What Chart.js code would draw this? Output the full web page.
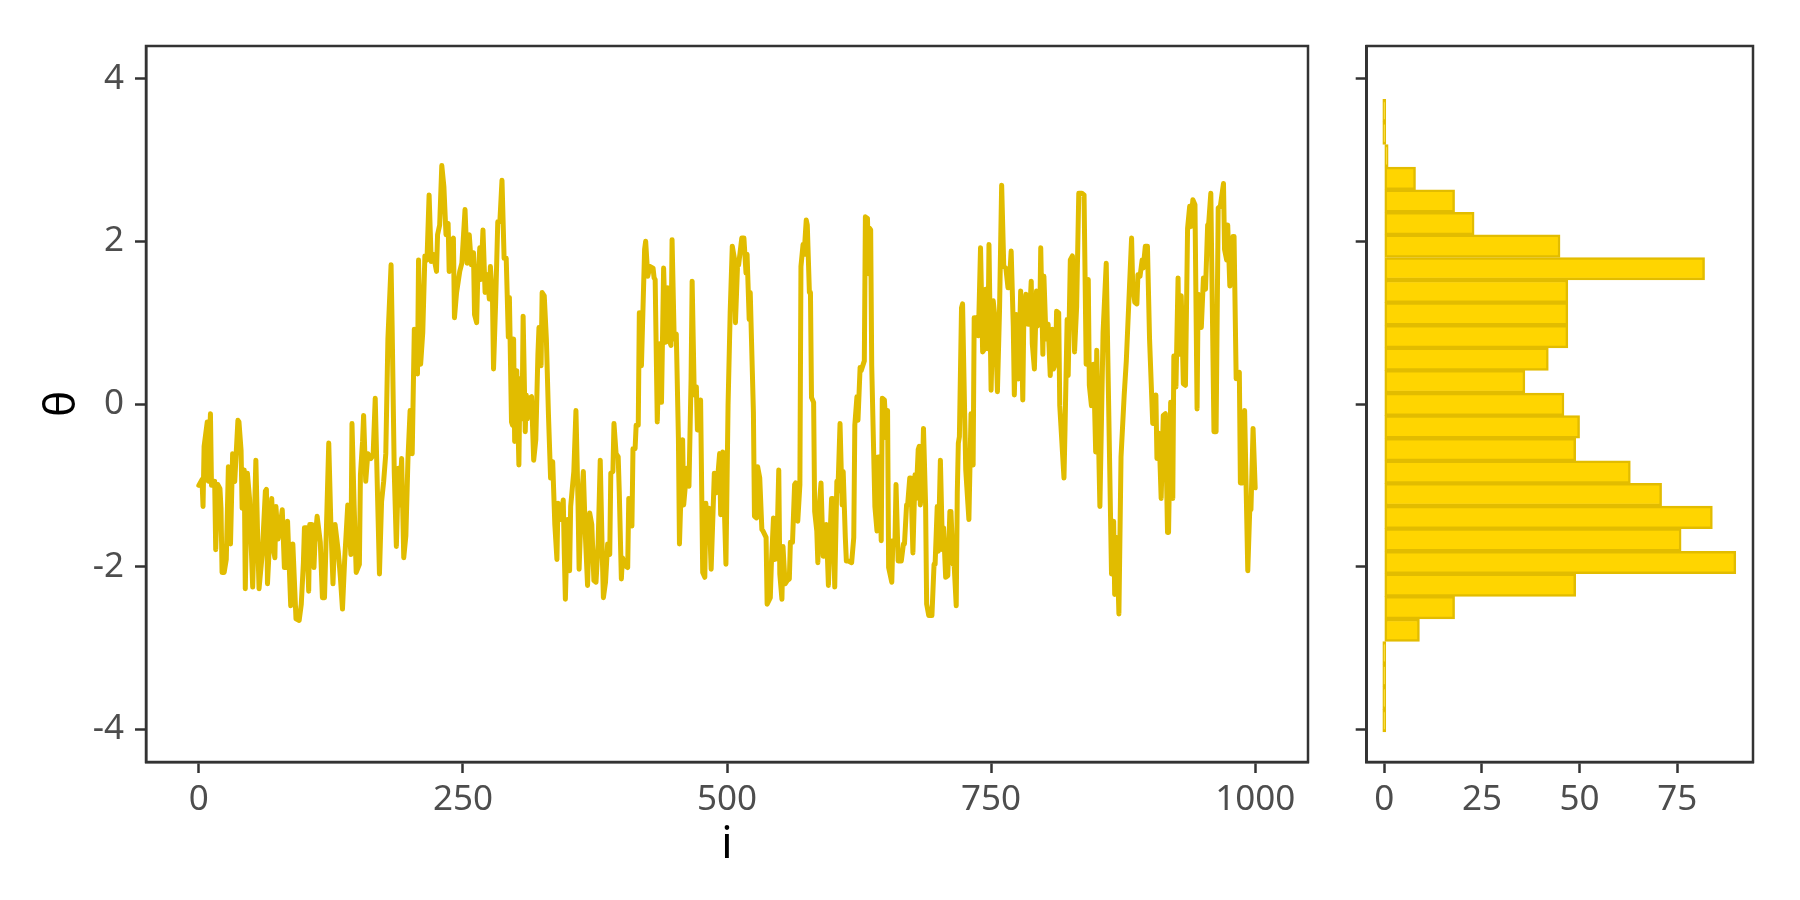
<!DOCTYPE html>
<html>
<head>
<meta charset="utf-8">
<title>Trace and histogram of theta</title>
<script src="https://cdn.jsdelivr.net/npm/chart.js@4.4.1/dist/chart.umd.min.js"></script>
<style>
  html, body { margin: 0; padding: 0; background: #ffffff; }
  #wrap { position: relative; width: 1800px; height: 900px; }
  canvas { position: absolute; top: 0; }
  #trace { left: 0; }
  #hist { left: 1320px; }
</style>
</head>
<body>
<div id="wrap">
  <canvas id="trace" width="1330" height="900"></canvas>
  <canvas id="hist" width="480" height="900"></canvas>
</div>
<script>
// Trace values in pieces (iteration i, theta)
const iterA = [0,3,4,5,8,9,11,12,15,16,18,20,21,22,24,26,28,30,32,33,34,37,38,40,41,43,44,46,48,51,54,56,57,60,63,64,65,69,71,72,73,75,77,79,81,83,84,87,89,92,95,97,99,100,102,104,105,107,109,110,112,115,117,119];
const thetaA = [-1.0,-0.93,-1.26,-0.52,-0.22,-0.95,-0.12,-1.0,-0.95,-1.79,-0.99,-1.04,-1.28,-2.07,-2.07,-1.91,-0.77,-1.72,-0.61,-0.93,-0.95,-0.2,-0.22,-0.57,-1.28,-0.81,-2.27,-0.85,-1.16,-2.25,-0.69,-1.8,-2.27,-1.85,-1.07,-1.05,-2.21,-1.16,-1.81,-1.89,-1.26,-1.66,-1.5,-1.3,-2.01,-2.01,-1.44,-2.48,-1.72,-2.64,-2.66,-2.46,-1.95,-1.52,-1.52,-2.3,-1.48,-1.48,-2.01,-1.68,-1.38,-1.7,-2.38,-2.38];

const iterB = [123,125,127,129,132,134,136,138,141,144,145,147,149,152,153,155,156,158,160,163,165,167,169,171,173,175,177,179,182,183,185,187,189,190,192,194,196,198,200,202,204,207,208,210,212,214,216,218,220,222,225,226,228,230,232,234,236,237,240,241,242,244,247,249,252];
const thetaB = [-0.48,-1.48,-2.21,-1.48,-1.81,-2.13,-2.52,-1.93,-1.24,-1.85,-0.24,-1.24,-2.07,-1.97,-0.87,-0.46,-0.14,-0.95,-0.61,-0.67,-0.63,0.07,-1.03,-2.09,-1.2,-0.95,-0.61,0.8,1.71,0.96,-0.83,-1.75,-0.79,-1.24,-0.67,-1.89,-1.62,-0.67,-0.08,-0.61,0.92,0.37,1.77,0.49,0.88,1.82,1.77,2.57,1.75,1.84,1.63,2.08,2.2,2.93,2.67,2.08,2.22,1.63,2.02,2.04,1.06,1.37,1.63,1.73,2.39];

const iterC = [254,256,258,260,261,263,264,266,267,269,271,273,275,276,278,279,281,283,285,287,289,291,293,294,296,297,298,299,301,303,304,306,307,309,310,311,313,315,317,319,321,322,324,325,327,329,331,333,335,337,339,340,342,345,346,347,349,351,352,355,357,359,360,362,364,366,368,370,372,374,376,378,380];
const thetaC = [1.73,2.08,1.71,1.86,1.1,1.0,1.53,1.92,1.53,2.14,1.37,1.59,1.29,1.69,1.29,0.43,1.25,2.24,2.24,2.75,1.79,1.79,0.82,1.31,-0.22,-0.26,0.8,-0.46,0.41,-0.75,0.31,-0.18,1.08,-0.34,0.11,-0.18,0.07,0.09,-0.69,-0.44,0.61,0.94,0.47,1.37,1.33,0.8,-0.14,-0.91,-0.71,-1.48,-1.91,-1.22,-1.42,-1.18,-1.85,-2.4,-1.42,-2.05,-1.26,-0.83,-0.08,-1.24,-2.03,-1.26,-0.83,-1.64,-2.23,-1.34,-1.48,-2.17,-2.19,-1.72,-0.69];

const iterD = [382,383,385,387,389,390,392,393,395,397,398,400,401,404,406,407,410,411,413,414,416,417,419,422,423,425,427,430,431,432,434,435,436,438,440,442,444,445,447,448,450,452,454,455,458,459,462,464,466,467,469,471,472,475,477,479,480,481,483,485,488,490,493,494,496,499,501,503,505];
const thetaD = [-1.89,-2.38,-2.19,-1.72,-1.85,-0.85,-0.83,-0.24,-0.61,-0.65,-1.07,-2.15,-1.89,-1.99,-2.01,-1.16,-1.5,-0.55,-0.55,-0.26,-0.26,1.12,0.47,1.9,2.0,1.57,1.69,1.67,1.55,1.53,-0.22,0.31,0.74,0.02,1.67,0.76,1.43,0.8,0.72,2.02,0.8,0.86,-0.42,-1.72,-0.44,-1.24,-0.79,-1.01,0.31,1.51,0.11,0.21,-0.32,0.05,-2.07,-2.13,-1.22,-1.58,-1.28,-2.03,-0.85,-1.09,-0.61,-1.36,-0.59,-1.97,-0.02,1.12,1.94];

const iterE = [507,508,510,511,514,516,518,519,521,522,524,525,526,528,529,531,533,534,537,538,541,542,544,545,547,549,550,552,553,555,557,559,560,562,564,565,567,569,570,572,573,575,576,578,579,580,582,583,585,586,587,589,591,592,594,596,598,599,600,602,604,605,607,609,610,612,613,615,618,620,621,623,624,626,627,630,631,633];
const thetaE = [1.79,1.0,1.71,1.71,2.04,2.04,1.61,1.84,1.04,1.37,0.39,-0.1,-1.38,-1.4,-0.77,-0.91,-1.54,-1.56,-1.64,-2.46,-2.38,-1.97,-1.4,-1.91,-1.9,-0.81,-2.09,-2.4,-1.75,-2.21,-2.17,-2.15,-1.7,-1.7,-0.99,-0.97,-1.44,-0.99,1.69,1.96,1.84,2.26,2.2,1.37,1.37,0.08,0.02,-1.32,-1.56,-1.95,-1.3,-0.97,-1.87,-1.87,-1.48,-2.23,-1.48,-1.16,-1.16,-2.25,-0.95,-1.07,-0.24,-1.24,-0.83,-1.64,-1.93,-1.93,-1.95,-1.64,-0.26,0.09,-0.2,0.45,0.41,0.53,2.3,2.28];

const iterF = [634,635,636,637,640,642,643,644,646,647,649,651,652,653,656,657,659,660,662,665,667,668,670,671,673,674,676,678,679,681,682,683,685,686,688,689,691,694,696,697,699,700,702,704,705,707,709,711,712,714,715,717,718,719,720,722,723,726,729,731,733,734,736,738,740,742,744,745,747,748,750,752,754,756,758,760];
const thetaF = [1.6,2.16,2.14,0.47,-1.26,-1.56,-0.65,-0.65,-1.68,0.07,0.05,-0.42,-0.08,-2.01,-2.19,-1.68,-1.7,-0.99,-1.93,-1.93,-1.72,-1.72,-1.24,-1.24,-0.91,-0.91,-1.83,-0.87,-1.16,-0.56,-0.52,-1.24,-0.85,-0.3,-1.24,-2.46,-2.6,-2.6,-1.97,-1.97,-1.26,-1.81,-0.69,-1.79,-1.52,-2.13,-2.11,-1.32,-1.32,-1.97,-1.97,-2.48,-1.09,-0.48,-0.4,1.18,1.23,-0.81,-1.42,-0.12,-0.75,1.06,1.06,0.84,1.92,0.64,0.68,1.41,0.68,1.96,0.17,1.27,1.02,0.15,1.16,2.69];

const iterG = [762,764,766,767,769,771,772,774,775,776,778,780,781,783,785,786,788,789,791,793,794,796,797,799,800,802,804,806,808,809,811,812,814,815,819,820,822,823,825,827,829,831,833,836,838,840,842,843,845,847,849,850,853,856,859,864,866,867,869,871,873,876,878,883,884,886];
const thetaG = [1.69,1.67,1.43,1.43,1.88,0.96,0.11,1.1,0.33,0.31,1.39,0.05,1.08,1.35,0.98,0.98,1.51,0.74,0.43,1.39,0.96,0.98,1.92,0.61,1.57,0.8,0.98,0.35,0.92,0.43,0.5,1.14,1.12,-0.02,-0.91,-0.3,1.04,0.35,1.77,1.82,0.64,1.2,2.59,2.59,2.57,0.49,1.53,0.23,-0.02,0.49,-0.59,0.66,-1.26,0.88,1.73,-2.09,-1.44,-2.34,-1.64,-2.58,-0.65,0.11,0.53,2.04,1.49,1.25];

const iterH = [888,889,891,893,894,896,898,900,903,904,906,907,909,911,913,915,917,918,920,922,923,925,927,928,930,932,934,936,938,939,941,943,945,946,948,949,951,953,955,956,958,961,963,965,967,970,971,973,974,976,979,980,982,985,986,988,990,993,995,996,998,1000];
const thetaH = [1.23,1.59,1.57,1.77,1.67,1.94,1.94,0.8,-0.24,-0.24,0.11,-0.67,-0.36,-1.16,-0.14,-0.12,-1.58,-1.58,0.02,-1.16,0.59,0.21,1.55,0.61,1.33,0.25,0.23,2.16,2.43,2.18,2.51,2.45,-0.06,1.35,1.3,0.94,1.55,1.41,2.2,2.22,2.59,-0.34,-0.34,2.41,2.43,2.71,1.9,1.77,2.2,1.45,2.06,2.06,0.31,0.39,-0.97,-0.97,-0.08,-2.05,-1.24,-1.3,-0.3,-1.03];

// Histogram bins (centre of each bin, count in it)
const binCentres = [3.606,3.328,3.051,2.773,2.495,2.218,1.940,1.662,1.385,1.107,0.829,0.551,0.274,-0.004,-0.282,-0.560,-0.837,-1.115,-1.393,-1.670,-1.948,-2.226,-2.503,-2.781,-3.059,-3.337,-3.614,-3.892];
const binCounts = [0,0,1,8,18,23,45,82,47,47,47,42,36,46,50,49,63,71,84,76,90,49,18,9,0,0,0,0];

// Tick values
const iterTicks = [0, 250, 500, 750, 1000];
const thetaTicks = [-4, -2, 0, 2, 4];
const countTicks = [0, 25, 50, 75];

const LINE_COLOUR = '#E1BC00';
const BAR_FILL = '#FFD500';
const BAR_EDGE = '#E2BC00';
const FRAME = '#333333';

Chart.defaults.font.family = 'Noto Sans';

// Join the pieces of the trace into one list of points
function buildTrace() {
    const iters = [iterA, iterB, iterC, iterD, iterE, iterF, iterG, iterH];
    const thetas = [thetaA, thetaB, thetaC, thetaD, thetaE, thetaF, thetaG, thetaH];
    const points = [];
    iters.forEach((part, k) => {
        if (part.length !== thetas[k].length) {
            console.error('piece ' + k + ' lengths differ', part.length, thetas[k].length);
        }
        part.forEach((i, j) => points.push({ x: i, y: thetas[k][j] }));
    });
    return points;
}

// Draws the box round each panel
const panelBox = {
    id: 'panelBox',
    afterDraw(chart) {
        const { ctx, chartArea: a } = chart;
        ctx.save();
        ctx.strokeStyle = FRAME;
        ctx.lineWidth = 2.5;
        ctx.strokeRect(a.left, a.top, a.right - a.left, a.bottom - a.top);
        ctx.restore();
    }
};

// Common look of an axis: outside ticks, grey labels, no grid on the panel
function axis(tickValues, min, max, showLabels) {
    return {
        type: 'linear',
        min: min,
        max: max,
        offset: false,
        grid: { display: true, offset: false, drawOnChartArea: false, drawTicks: true, tickLength: 11, tickWidth: 2.5, tickColor: FRAME },
        border: { display: true, color: FRAME, width: 2.5 },
        ticks: {
            display: showLabels,
            color: '#4D4D4D',
            font: { family: 'Noto Sans', size: 35 },
            padding: 11,
            maxRotation: 0,
            callback: v => String(v)
        },
        afterBuildTicks: scale => {
            scale.ticks = tickValues.map(v => ({ value: v }));
        }
    };
}

function initializeTrace() {
    const xAxis = axis(iterTicks, -50, 1050, true);
    xAxis.position = 'bottom';
    xAxis.ticks.padding = 6;
    xAxis.title = { display: true, text: 'i', color: '#000000', font: { family: 'Noto Sans', size: 44 }, padding: { top: 0, bottom: 28 } };
    xAxis.afterFit = s => { s.height = 138; };

    const yAxis = axis(thetaTicks, -4.4, 4.4, true);
    yAxis.position = 'left';
    yAxis.title = { display: true, text: 'θ', color: '#000000', font: { family: 'Noto Sans', size: 44 }, padding: { top: 36, bottom: 0 } };
    yAxis.afterFit = s => { s.width = 146; };

    new Chart(document.getElementById('trace'), {
        type: 'line',
        data: {
            datasets: [{
                data: buildTrace(),
                borderColor: LINE_COLOUR,
                borderWidth: 5,
                pointRadius: 0,
                tension: 0,
                borderJoinStyle: 'round',
                borderCapStyle: 'round'
            }]
        },
        options: {
            responsive: false,
            animation: false,
            events: [],
            layout: { padding: { top: 46, right: 22, left: 0, bottom: 0 } },
            plugins: { legend: { display: false }, tooltip: { enabled: false } },
            scales: { x: xAxis, y: yAxis }
        },
        plugins: [panelBox]
    });
}

function initializeHistogram() {
    const xAxis = axis(countTicks, -4.5, 94.4, true);
    xAxis.position = 'bottom';
    xAxis.ticks.padding = 6;
    xAxis.afterFit = s => { s.height = 138; };

    const yAxis = axis(thetaTicks, -4.4, 4.4, false);
    yAxis.position = 'left';
    yAxis.afterFit = s => { s.width = 46.7; };

    new Chart(document.getElementById('hist'), {
        type: 'bar',
        data: {
            datasets: [{
                data: binCentres.map((c, k) => ({ x: binCounts[k], y: c })),
                backgroundColor: BAR_FILL,
                borderColor: BAR_EDGE,
                borderWidth: 2.5,
                borderSkipped: false,
                barPercentage: 1,
                categoryPercentage: 1,
                minBarLength: 3
            }]
        },
        options: {
            indexAxis: 'y',
            responsive: false,
            animation: false,
            events: [],
            layout: { padding: { top: 46, right: 47, left: 0, bottom: 0 } },
            plugins: { legend: { display: false }, tooltip: { enabled: false } },
            scales: { x: xAxis, y: yAxis }
        },
        plugins: [panelBox]
    });
}

initializeTrace();
initializeHistogram();
</script>
</body>
</html>
